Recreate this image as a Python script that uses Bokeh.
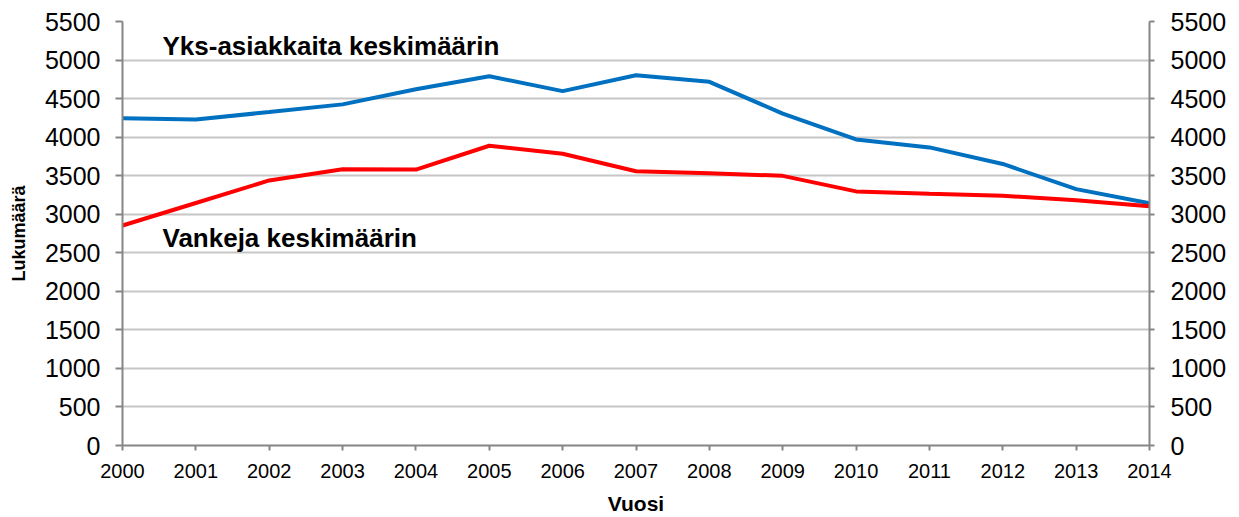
from bokeh.plotting import figure
from bokeh.models import LinearAxis, FixedTicker, Label
from bokeh.embed import file_html
from bokeh.resources import INLINE

years = list(range(2000, 2015))
yks_asiakkaat = [4245, 4228, 4326, 4425, 4622, 4790, 4597, 4803, 4717, 4305, 3970, 3867, 3652, 3326, 3142]
vangit = [2854, 3146, 3438, 3584, 3579, 3888, 3785, 3558, 3532, 3498, 3296, 3266, 3240, 3180, 3103]
y_ticks = list(range(0, 5501, 500))

FONT = "Liberation Sans"
AXIS_COL = "#868686"

p = figure(width=1239, height=517, output_backend="svg", toolbar_location=None,
           x_range=(2000, 2014), y_range=(0, 5500),
           min_border_left=122, min_border_right=90, min_border_top=21, min_border_bottom=70)
p.outline_line_color = None
p.xgrid.visible = False
p.ygrid.grid_line_color = "#c6c6c6"
p.ygrid.grid_line_width = 2
p.ygrid.ticker = FixedTicker(ticks=y_ticks)

p.line(years, yks_asiakkaat, line_color="#0070c0", line_width=4)
p.line(years, vangit, line_color="#ff0000", line_width=4)

def style_axis(ax, size, tick_out):
    ax.axis_line_color = AXIS_COL
    ax.axis_line_width = 2
    ax.major_tick_line_color = AXIS_COL
    ax.major_tick_line_width = 2
    ax.major_tick_out = tick_out
    ax.major_tick_in = 0
    ax.minor_tick_line_color = None
    ax.major_label_text_font = FONT
    ax.major_label_text_font_size = size
    ax.major_label_text_color = "#000000"
    ax.axis_label_text_font = FONT
    ax.axis_label_text_font_style = "bold"
    ax.axis_label_text_color = "#000000"

xa = p.xaxis[0]
xa.ticker = FixedTicker(ticks=years)
style_axis(xa, "20px", 5)
xa.major_label_standoff = 13
xa.axis_label = "Vuosi"
xa.axis_label_text_font_size = "21px"
xa.axis_label_standoff = 11

ya = p.yaxis[0]
ya.ticker = FixedTicker(ticks=y_ticks)
style_axis(ya, "25px", 7)
ya.major_label_standoff = 15
ya.axis_label = "Lukumäärä"
ya.axis_label_text_font_size = "18px"
ya.axis_label_standoff = 13

ra = LinearAxis(ticker=FixedTicker(ticks=y_ticks))
style_axis(ra, "25px", 5)
ra.major_label_standoff = 16
p.add_layout(ra, "right")

p.add_layout(Label(x=2000.545, y=5180, text="Yks-asiakkaita keskimäärin",
                   text_font=FONT, text_font_style="bold", text_font_size="26px",
                   text_baseline="middle", text_color="#000000"))
p.add_layout(Label(x=2000.545, y=2686, text="Vankeja  keskimäärin",
                   text_font=FONT, text_font_style="bold", text_font_size="26px",
                   text_baseline="middle", text_color="#000000"))

open("out.html", "w").write(file_html(p, INLINE))
